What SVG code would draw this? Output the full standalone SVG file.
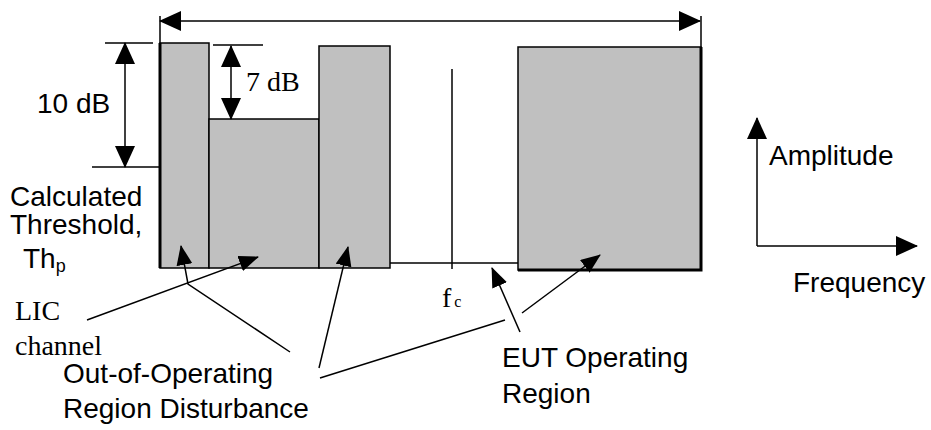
<svg xmlns="http://www.w3.org/2000/svg" width="931" height="430" viewBox="0 0 931 430">
  <style>
    .bar { fill: #c0c0c0; stroke: #000; stroke-width: 1.5; }
    .ln { fill: none; stroke: #000; stroke-width: 1.5; }
    .sans { font-family: "Liberation Sans", Arial, sans-serif; font-size: 28px; fill: #000; }
    .serif { font-family: "Liberation Serif", "Times New Roman", serif; font-size: 28px; fill: #000; }
  </style>
  <defs>
    <marker id="ah" viewBox="0 0 22 20" refX="21" refY="10" markerWidth="22" markerHeight="20" markerUnits="userSpaceOnUse" orient="auto-start-reverse">
      <path d="M0,0 L22,10 L0,20 z" fill="#000"/>
    </marker>
    <marker id="ap" viewBox="0 0 20 16" refX="19" refY="8" markerWidth="20" markerHeight="16" markerUnits="userSpaceOnUse" orient="auto">
      <path d="M0,0 L20,8 L0,16 z" fill="#000"/>
    </marker>
  </defs>

  <rect width="931" height="430" fill="#fff"/>

  <g id="bar-lic">
    <rect class="bar" x="160" y="43" width="49" height="225"/>
    <line x1="160" y1="43" x2="160" y2="268" stroke="#000" stroke-width="3"/>
  </g>
  <g id="bar-mid">
    <rect class="bar" x="209" y="119" width="110" height="149"/>
  </g>
  <g id="bar-right">
    <rect class="bar" x="319" y="46" width="71" height="222"/>
  </g>
  <g id="baseline">
    <line class="ln" x1="390" y1="263" x2="518" y2="263"/>
  </g>
  <g id="fc-line">
    <line class="ln" x1="452" y1="69" x2="452" y2="269"/>
  </g>
  <g id="bar-eut">
    <rect class="bar" x="518" y="47" width="183" height="223" stroke-width="2"/>
    <polyline points="701,47 701,270 518,270" fill="none" stroke="#000" stroke-width="3"/>
  </g>

  <g id="dimensions">
    <line class="ln" x1="160" y1="16" x2="160" y2="43"/>
    <line class="ln" x1="701" y1="16" x2="701" y2="47"/>
    <line class="ln" x1="105" y1="43" x2="153" y2="43"/>
    <line class="ln" x1="92" y1="167" x2="160" y2="167"/>
    <line class="ln" x1="213" y1="45" x2="263" y2="45"/>
  </g>

  <g id="connectors">
    <line class="ln" x1="160" y1="21" x2="700" y2="21" marker-start="url(#ah)" marker-end="url(#ah)"/>
    <line class="ln" x1="125" y1="43" x2="125" y2="167" marker-start="url(#ah)" marker-end="url(#ah)"/>
    <line class="ln" x1="231" y1="46" x2="231" y2="119" marker-start="url(#ah)" marker-end="url(#ah)"/>
    <line class="ln" x1="87" y1="320" x2="258" y2="257" marker-end="url(#ap)"/>
    <polyline class="ln" points="290,352 188,284 181,246" marker-end="url(#ap)"/>
    <line class="ln" x1="319" y1="368" x2="348" y2="247" marker-end="url(#ap)"/>
    <line class="ln" x1="320" y1="378" x2="505" y2="320"/>
    <line class="ln" x1="522" y1="313" x2="600" y2="255" marker-end="url(#ap)"/>
    <line class="ln" x1="520" y1="332" x2="492" y2="268" marker-end="url(#ap)"/>
    <line class="ln" x1="757" y1="246" x2="757" y2="118" marker-end="url(#ah)"/>
    <line class="ln" x1="757" y1="246" x2="917" y2="246" marker-end="url(#ah)"/>
  </g>

  <g id="label-10db"><text class="sans" x="37" y="113">10 dB</text></g>
  <g id="label-7db"><text class="serif" x="246" y="91">7 dB</text></g>
  <g id="label-threshold">
    <text class="sans" x="10" y="206" font-size="26">Calculated</text>
    <text class="sans" x="10" y="234" font-size="26">Threshold,</text>
    <text class="sans" x="23" y="268" font-size="26">Th<tspan font-size="18" dy="4">p</tspan></text>
  </g>
  <g id="label-lic">
    <text class="serif" x="15" y="320">LIC</text>
    <text class="serif" x="15" y="355">channel</text>
  </g>
  <g id="label-ood">
    <text class="sans" x="63" y="383">Out-of-Operating</text>
    <text class="sans" x="63" y="418">Region Disturbance</text>
  </g>
  <g id="label-fc"><text class="serif" x="442" y="307">f<tspan font-size="16" dx="3">c</tspan></text></g>
  <g id="label-eut">
    <text class="sans" x="502" y="367">EUT Operating</text>
    <text class="sans" x="502" y="403">Region</text>
  </g>
  <g id="label-amplitude"><text class="sans" x="769" y="165">Amplitude</text></g>
  <g id="label-frequency"><text class="sans" x="793" y="292">Frequency</text></g>
</svg>
